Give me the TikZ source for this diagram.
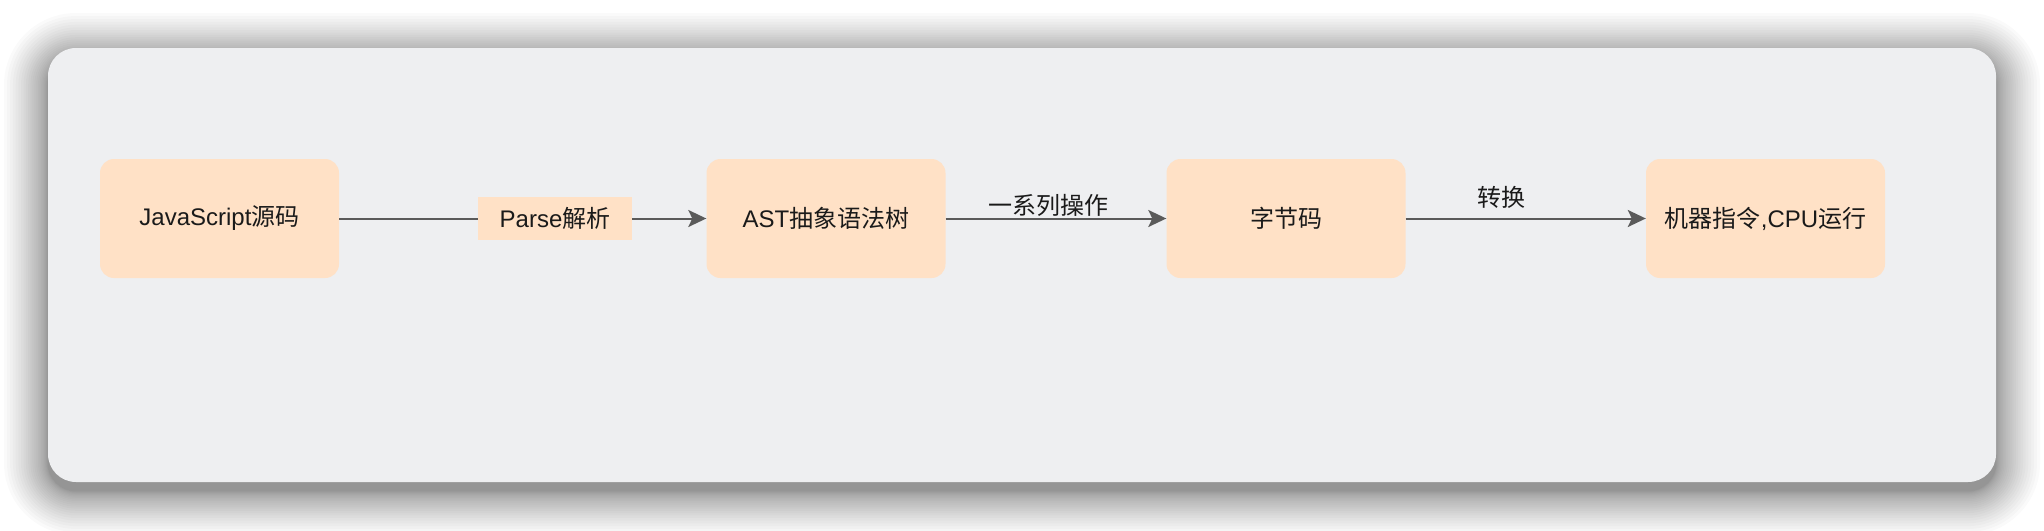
\documentclass[tikz,border=0pt]{standalone}
\usepackage{fontspec}
\setmainfont{Liberation Sans}
\newfontfamily\cjk{Noto Sans CJK SC}
\usetikzlibrary{arrows.meta}
\definecolor{panel}{HTML}{EEEFF1}
\definecolor{peach}{HTML}{FFE1C6}
\definecolor{edgec}{HTML}{5A5A5A}
\definecolor{ink}{HTML}{1A1A1A}
\tikzset{
  stepbox/.style={fill=peach, rounded corners=14pt, minimum width=239pt, minimum height=119pt,
    inner sep=0pt, font=\fontsize{24}{29}\selectfont, text=ink},
  lbl/.style={inner sep=0pt, font=\fontsize{24}{29}\selectfont, text=ink},
  parselbl/.style={lbl, fill=peach, minimum width=154pt, minimum height=43pt},
  conn/.style={draw=edgec, line width=2pt, -{Stealth[length=18pt,width=17pt,inset=4pt]}},
  plain/.style={draw=edgec, line width=2pt}
}
\begin{document}
\begin{tikzpicture}[x=1pt,y=-1pt]
\useasboundingbox[fill=white] (0,0) rectangle (2044,530);
% shadow
\foreach \i in {1,...,24}{
  \pgfmathsetmacro\e{44*((25-\i)/24)^1.7}
  \pgfmathsetmacro\r{28+\e}
  \fill[black, opacity=0.019, rounded corners=\r pt] (48-\e,57-\e) rectangle (1996+\e,491+\e);
}
% panel
\fill[panel, rounded corners=28pt] (48,48) rectangle (1996,482);
% boxes
\node[stepbox] (js) at (219.5,218.5) {JavaScript{\cjk 源码}};
\node[stepbox] (ast) at (826,218.5) {AST{\cjk 抽象语法树}};
\node[stepbox] (bc) at (1286,218.5) {\cjk 字节码};
\node[stepbox] (mc) at (1765.5,218.5) {{\cjk 机器指令},CPU{\cjk 运行}};
% label on first connector
\node[parselbl] (parse) at (555,218.5) {Parse{\cjk 解析}};
% connectors
\draw[plain] (js) -- (parse);
\draw[conn] (parse) -- (ast);
\draw[conn] (ast) -- (bc);
\draw[conn] (bc) -- (mc);
% labels
\node[lbl] (l2) at (1048,205) {\cjk 一系列操作};
\node[lbl] (l3) at (1501,197) {\cjk 转换};
\end{tikzpicture}
\end{document}
